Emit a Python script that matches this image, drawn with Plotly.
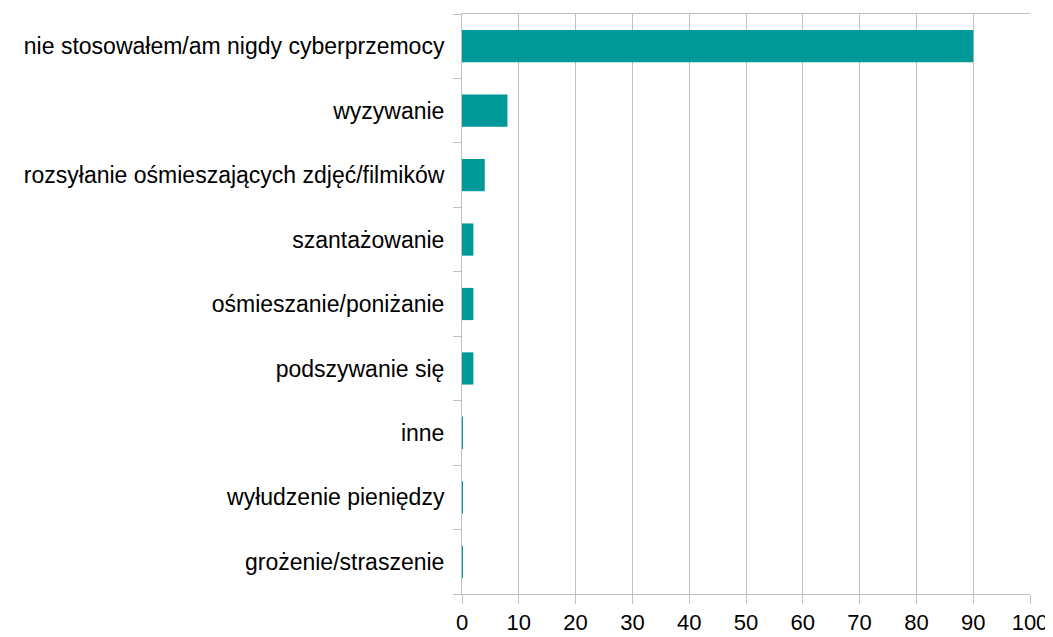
import plotly.graph_objects as go

# categories listed top to bottom
categories = [
    "nie stosowałem/am nigdy cyberprzemocy",
    "wyzywanie",
    "rozsyłanie ośmieszających zdjęć/filmików",
    "szantażowanie",
    "ośmieszanie/poniżanie",
    "podszywanie się",
    "inne",
    "wyłudzenie pieniędzy",
    "grożenie/straszenie",
]
values = [90, 8, 4, 2, 2, 2, 0.15, 0.15, 0.15]

x_ticks = [0, 10, 20, 30, 40, 50, 60, 70, 80, 90, 100]

TEAL = "#009999"
GRID = "#c0c0c0"
FONT = "Liberation Sans, Arial, sans-serif"

fig = go.Figure()
fig.add_trace(go.Bar(
    y=categories,
    x=values,
    orientation="h",
    marker=dict(color=TEAL, line=dict(width=0)),
))

fig.update_xaxes(
    range=[0, 100],
    tickvals=x_ticks,
    showgrid=True, gridcolor=GRID, gridwidth=1,
    showline=True, linecolor=GRID, linewidth=1, mirror=True,
    ticks="outside", ticklen=9, tickcolor=GRID,
    ticklabelstandoff=0,
    zeroline=False,
    automargin=False,
    tickfont=dict(size=22, color="#000000", family=FONT),
)
fig.update_yaxes(
    categoryorder="array",
    categoryarray=categories[::-1],
    showgrid=False,
    showline=True, linecolor=GRID, linewidth=1,
    ticks="outside", ticklen=8, tickcolor=GRID,
    tickson="boundaries",
    ticklabelstandoff=12,
    automargin=False,
    tickfont=dict(size=23, color="#000000", family=FONT),
)

# page body adds an 8px offset, so the figure is sized to fit the window
fig.update_layout(
    width=1045, height=629,
    bargap=0.5,
    showlegend=False,
    plot_bgcolor="white",
    paper_bgcolor="white",
    margin=dict(l=454, r=23, t=6, b=43),
)

fig.write_html("out.html")
